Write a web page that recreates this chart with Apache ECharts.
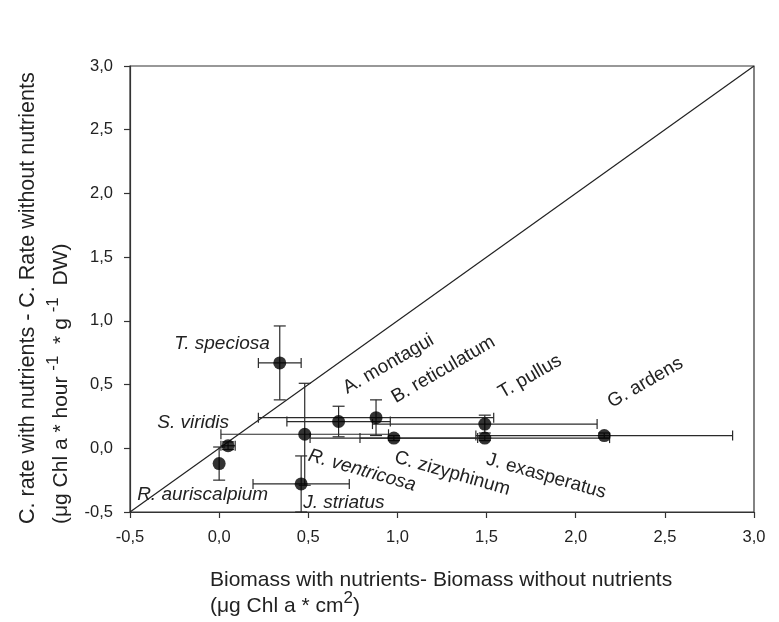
<!DOCTYPE html>
<html>
<head>
<meta charset="utf-8">
<script src="https://cdn.jsdelivr.net/npm/echarts@6/dist/echarts.min.js"></script>
<style>
  html, body { margin: 0; padding: 0; background: #fff; }
  #chart { width: 779px; height: 622px; }
</style>
</head>
<body>
<div id="chart"></div>
<script>
// species and their differences (with - without nutrients)
var species = ['T. speciosa', 'S. viridis', 'R. auriscalpium', 'R. ventricosa', 'J. striatus',
    'A. montagui', 'B. reticulatum', 'C. zizyphinum', 'T. pullus', 'J. exasperatus', 'G. ardens'];
var biomassDiff = [0.34, 0.05, 0.00, 0.48, 0.46, 0.67, 0.88, 0.98, 1.49, 1.49, 2.16];
var rateDiff = [0.67, 0.02, -0.12, 0.11, -0.28, 0.21, 0.24, 0.08, 0.19, 0.08, 0.10];
var biomassErr = [0.12, 0.04, 0.00, 0.47, 0.27, 0.29, 0.66, 0.47, 0.63, 0.70, 0.72];
var rateErr = [0.29, 0.03, 0.13, 0.40, 0.22, 0.12, 0.14, 0.02, 0.07, 0.02, 0.02];
var identityLine = [[-0.5, -0.5], [3.0, 3.0]];
var axisTicks = ['-0,5', '0,0', '0,5', '1,0', '1,5', '2,0', '2,5', '3,0'];

// label placement next to each point (pixel offset, rotation in degrees)
var labelLayout = {
    'T. speciosa':    { dx: -10, dy: -19, rot: 0,   align: 'right', italic: true },
    'S. viridis':     { dx: 1,   dy: -23, rot: 0,   align: 'right', italic: true },
    'R. auriscalpium':{ dx: -82, dy: 31,  rot: 0,   align: 'left',  italic: true },
    'R. ventricosa':  { dx: 4,   dy: 21,  rot: -16, align: 'left',  italic: true },
    'J. striatus':    { dx: 2,   dy: 19,  rot: 0,   align: 'left',  italic: true },
    'A. montagui':    { dx: 6,   dy: -32, rot: 30,  align: 'left',  italic: false },
    'B. reticulatum': { dx: 17,  dy: -19, rot: 30,  align: 'left',  italic: false },
    'C. zizyphinum':  { dx: 1,   dy: 19,  rot: -16, align: 'left',  italic: false },
    'T. pullus':      { dx: 15,  dy: -30, rot: 30,  align: 'left',  italic: false },
    'J. exasperatus': { dx: 2,   dy: 21,  rot: -16, align: 'left',  italic: false },
    'G. ardens':      { dx: 5,   dy: -32, rot: 30,  align: 'left',  italic: false }
};

var FONT = '"Liberation Sans", Arial, sans-serif';
var points = species.map(function (s, i) { return [biomassDiff[i], rateDiff[i]]; });
var errData = species.map(function (s, i) {
    return [biomassDiff[i], rateDiff[i], biomassErr[i], rateErr[i]];
});

function tickLabel(v) {
    var idx = Math.round((v + 0.5) / 0.5);
    return axisTicks[idx] || '';
}

function renderErr(params, api) {
    var x = api.value(0), y = api.value(1), xe = api.value(2), ye = api.value(3);
    var st = { stroke: '#2a2a2a', lineWidth: 1.2, fill: null };
    var kids = [];
    var cap = 5;
    if (xe > 0) {
        var l = api.coord([x - xe, y]), r = api.coord([x + xe, y]);
        kids.push({ type: 'line', shape: { x1: l[0], y1: l[1], x2: r[0], y2: r[1] }, style: st });
        kids.push({ type: 'line', shape: { x1: l[0], y1: l[1] - cap, x2: l[0], y2: l[1] + cap }, style: st });
        kids.push({ type: 'line', shape: { x1: r[0], y1: r[1] - cap, x2: r[0], y2: r[1] + cap }, style: st });
    }
    if (ye > 0) {
        var t = api.coord([x, y + ye]), b = api.coord([x, y - ye]);
        kids.push({ type: 'line', shape: { x1: t[0], y1: t[1], x2: b[0], y2: b[1] }, style: st });
        kids.push({ type: 'line', shape: { x1: t[0] - 6, y1: t[1], x2: t[0] + 6, y2: t[1] }, style: st });
        kids.push({ type: 'line', shape: { x1: b[0] - 6, y1: b[1], x2: b[0] + 6, y2: b[1] }, style: st });
    }
    return { type: 'group', children: kids };
}

var axisCommon = {
    type: 'value',
    min: -0.5,
    max: 3.0,
    interval: 0.5,
    splitLine: { show: false },
    axisLine: { show: true, onZero: false, lineStyle: { color: '#333', width: 1.2 } },
    axisTick: { show: true, inside: false, length: 6, lineStyle: { color: '#333', width: 1.2 } },
    axisLabel: { color: '#222', fontSize: 16.5, fontFamily: FONT, formatter: tickLabel }
};

var chart = echarts.init(document.getElementById('chart'));

var option = {
    animation: false,
    backgroundColor: '#fff',
    grid: { left: 130, right: 25, top: 66, bottom: 110, show: true, borderColor: '#333', borderWidth: 1.2 },
    xAxis: echarts.util.merge({ axisLabel: { margin: 17 } }, axisCommon, true),
    yAxis: echarts.util.merge({ axisLabel: { margin: 17 } }, axisCommon, true),
    series: [
        {
            type: 'line',
            data: identityLine,
            symbol: 'none',
            lineStyle: { color: '#222', width: 1.2 },
            z: 1
        },
        {
            type: 'custom',
            renderItem: renderErr,
            data: errData,
            z: 2
        },
        {
            type: 'scatter',
            data: points,
            symbol: 'circle',
            symbolSize: 13,
            itemStyle: { color: '#000' },
            z: 3
        }
    ]
};

chart.setOption(option);

// species labels and axis titles
var graphics = species.map(function (s, i) {
    var p = chart.convertToPixel({ gridIndex: 0 }, points[i]);
    var lay = labelLayout[s];
    return {
        type: 'text',
        x: p[0] + lay.dx,
        y: p[1] + lay.dy,
        rotation: lay.rot * Math.PI / 180,
        style: {
            text: s,
            fill: '#222',
            fontSize: 19,
            fontFamily: FONT,
            fontStyle: lay.italic ? 'italic' : 'normal',
            align: lay.align,
            verticalAlign: 'middle'
        },
        z: 10
    };
});

var titleRich = {
    sup: { fontSize: 17, fontFamily: FONT, fill: '#222', verticalAlign: 'top', lineHeight: 32 },
    b: { fontSize: 21, fontFamily: FONT, fill: '#222', lineHeight: 32 }
};

graphics.push({
    type: 'text', x: 210, y: 580,
    style: { text: 'Biomass with nutrients- Biomass without nutrients', fill: '#222',
        fontSize: 21, fontFamily: FONT, align: 'left', verticalAlign: 'middle' }
});
graphics.push({
    type: 'text', x: 210, y: 606,
    style: { text: '{b|(μg Chl a * cm}{sup|2}{b|)}', rich: titleRich, align: 'left', verticalAlign: 'middle' }
});
graphics.push({
    type: 'text', x: 28, y: 524, rotation: Math.PI / 2,
    style: { text: 'C. rate with nutrients - C. Rate without nutrients', fill: '#222',
        fontSize: 21.5, fontFamily: FONT, align: 'left', verticalAlign: 'middle' }
});
graphics.push({
    type: 'text', x: 61, y: 524, rotation: Math.PI / 2,
    style: { text: '{b|(μg Chl a * hour }{sup|-1}{b|  * g }{sup|-1}{b|  DW)}', rich: titleRich,
        align: 'left', verticalAlign: 'middle' }
});

chart.setOption({ graphic: graphics });
</script>
</body>
</html>
